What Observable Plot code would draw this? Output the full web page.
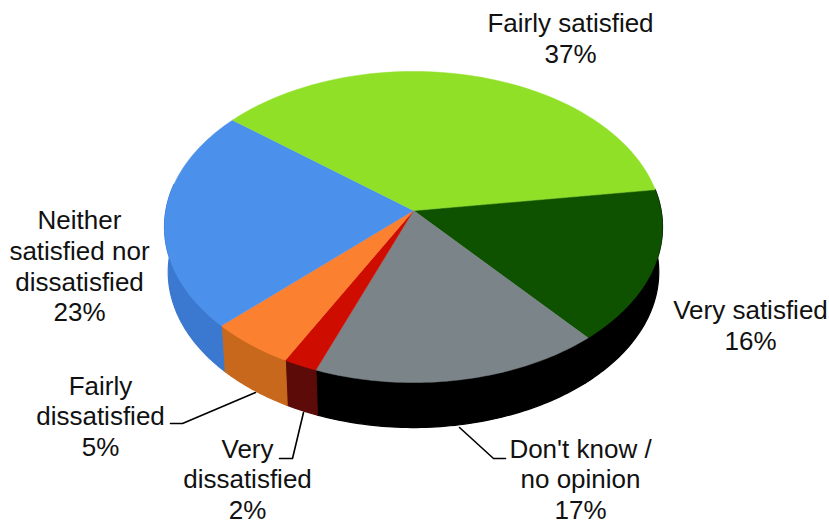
<!DOCTYPE html>
<html>
<head>
<meta charset="utf-8">
<script src="https://cdn.jsdelivr.net/npm/d3@7"></script>
<script src="https://cdn.jsdelivr.net/npm/@observablehq/plot@0.6"></script>
<style>
  html, body { margin: 0; padding: 0; background: #fff; }
</style>
</head>
<body>
<div id="chart"></div>
<script>
// Survey responses, clockwise from the right-hand edge of the pie.
const categories = ["Very satisfied", "Don't know /\nno opinion", "Very\ndissatisfied", "Fairly\ndissatisfied", "Neither\nsatisfied nor\ndissatisfied", "Fairly satisfied"];
const shares = [16, 17, 2, 5, 23, 37];
const topColors = ["#0e5200", "#7b8488", "#cf0c00", "#fb8030", "#4b90ea", "#90e028"];
const sideColors = ["#000000", "#000000", "#5c0b08", "#c8681c", "#3b78cf", "#000000"];

// Page layout of the tilted pie and its labels.
const width = 829, height = 524;
const cx = 413, cy = 210;          // where the slices meet
const radiusX = 247.6, radiusY = 153.8, perspective = 0.106;
const depth = 45, baseScale = 0.985;
const startDegrees = -8;
const labelCentres = [[750, 324], [580, 478], [247, 478], [100, 415], [79, 265], [570, 37]];
const leaders = [
  null,
  [[459, 427], [493, 458], [505, 458]],
  [[303, 412], [292, 458], [279, 458]],
  [[255, 392], [182, 423], [170, 423]],
  null,
  null
];

const total = d3.sum(shares);
const ends = d3.cumsum(shares);
const toAngle = (s) => (startDegrees + (s / total) * 360) * Math.PI / 180;
const slices = categories.map((name, i) => ({
  name, i,
  a0: toAngle(i ? ends[i - 1] : 0),
  a1: toAngle(ends[i])
}));

// Rim of the disc seen in perspective; the near edge is drawn larger than the far edge.
const rim = (t) => {
  const w = 1 - perspective * Math.sin(t);
  return {x: cx + radiusX * Math.cos(t) / w, y: cy + radiusY * Math.sin(t) / w};
};
const baseRim = (t) => {
  const p = rim(t);
  return {x: cx + (p.x - cx) * baseScale, y: p.y + depth};
};
const sweep = (a0, a1) => d3.range(0, 61).map((k) => a0 + (a1 - a0) * k / 60);

// Top face: centre point plus the rim arc of each slice.
const topFace = slices.flatMap((s) => [
  {x: cx, y: cy},
  ...sweep(s.a0, s.a1).map(rim)
].map((p) => ({...p, key: s.i, fill: topColors[s.i]})));

// Side wall: the front part of the rim extruded downward, hidden behind the top face elsewhere.
const wallFrom = -10 * Math.PI / 180, wallTo = 190 * Math.PI / 180;
const sideWall = slices.flatMap((s) => {
  const a0 = Math.max(s.a0, wallFrom), a1 = Math.min(s.a1, wallTo);
  if (a1 <= a0) return [];
  const arc = sweep(a0, a1);
  return [
    ...arc.map(rim),
    ...arc.slice().reverse().map(baseRim)
  ].map((p) => ({...p, key: s.i, fill: sideColors[s.i]}));
});

const labelRows = slices.map((s) => ({
  text: `${s.name}\n${shares[s.i]}%`,
  x: labelCentres[s.i][0],
  y: labelCentres[s.i][1]
}));
const leaderRows = leaders.flatMap((path, i) =>
  path ? path.map(([x, y]) => ({x, y, key: i})) : []
);

const chart = Plot.plot({
  width, height,
  margin: 0,
  x: {domain: [0, width], range: [0, width], axis: null},
  y: {domain: [0, height], range: [0, height], axis: null},
  color: {type: "identity"},
  style: {background: "#fff"},
  marks: [
    Plot.line(sideWall, {x: "x", y: "y", z: "key", fill: "fill", stroke: "fill", strokeWidth: 1.2, curve: "linear-closed"}),
    Plot.line(topFace, {x: "x", y: "y", z: "key", fill: "fill", stroke: "fill", strokeWidth: 0.5, curve: "linear-closed"}),
    Plot.line(leaderRows, {x: "x", y: "y", z: "key", stroke: "#000", strokeWidth: 1.6}),
    Plot.text(labelRows, {
      x: "x", y: "y", text: "text",
      fontFamily: "Liberation Sans, Arial, sans-serif",
      fontSize: 26,
      lineHeight: 1.18,
      fill: "#111"
    })
  ]
});
document.getElementById("chart").append(chart);
</script>
</body>
</html>
